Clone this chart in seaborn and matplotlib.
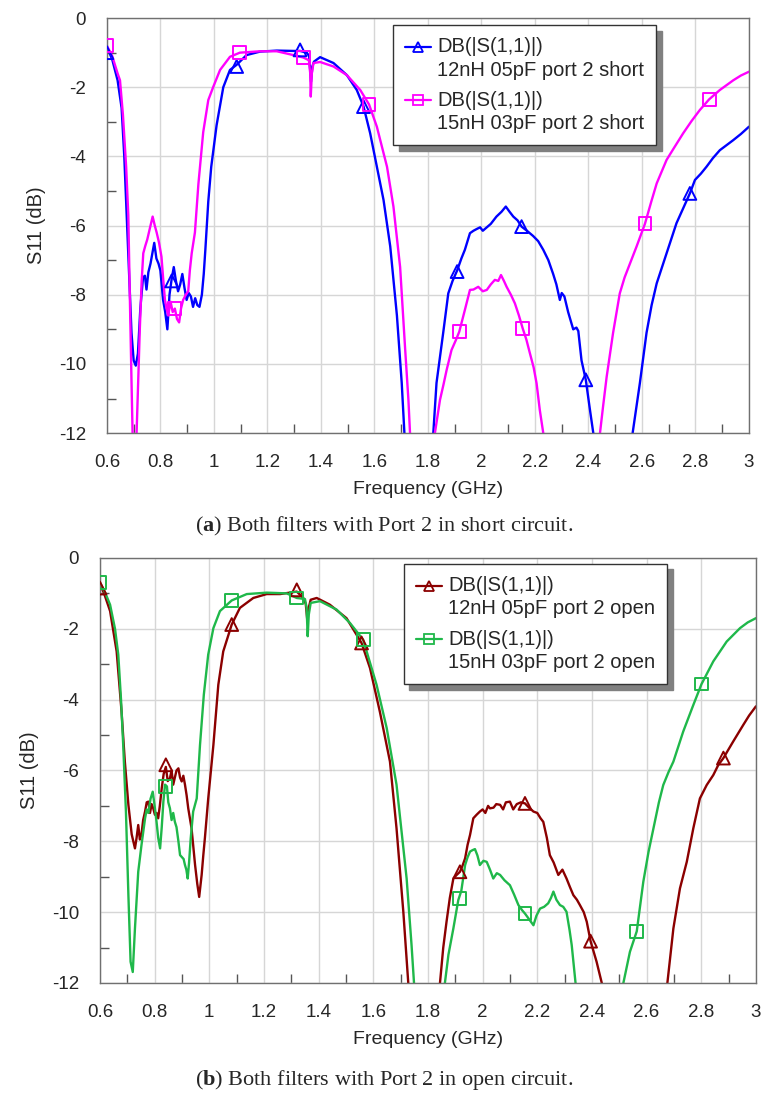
import numpy as np
import pandas as pd
import seaborn as sns
import matplotlib.pyplot as plt
from matplotlib.legend_handler import HandlerLine2D

# ---- (a) port 2 short: 12nH 05pF (blue)
short12_f = [0.600, 0.620, 0.640, 0.655, 0.665, 0.674, 0.684, 0.692, 0.700, 0.708, 0.716, 0.725,
             0.735, 0.742, 0.748, 0.755, 0.763, 0.770, 0.777, 0.785, 0.793, 0.800, 0.810, 0.818,
             0.826, 0.834, 0.842, 0.850, 0.858, 0.866, 0.874, 0.882, 0.890, 0.898, 0.906, 0.914,
             0.922, 0.930, 0.938, 0.946, 0.955, 0.962, 0.968, 0.979, 0.990, 1.010, 1.035, 1.060,
             1.085, 1.122, 1.172, 1.235, 1.297, 1.322, 1.347, 1.356, 1.363, 1.368, 1.374, 1.397,
             1.447, 1.497, 1.534, 1.559, 1.584, 1.609, 1.634, 1.659, 1.684, 1.702, 1.712, 1.716,
             1.816, 1.820, 1.832, 1.845, 1.857, 1.876, 1.892, 1.909, 1.925, 1.938, 1.957, 1.970,
             1.982, 1.995, 2.005, 2.020, 2.035, 2.056, 2.075, 2.091, 2.105, 2.119, 2.135, 2.150,
             2.170, 2.193, 2.212, 2.231, 2.250, 2.268, 2.280, 2.293, 2.300, 2.310, 2.324, 2.343,
             2.355, 2.362, 2.374, 2.390, 2.405, 2.418, 2.422,
             2.560, 2.565, 2.592, 2.617, 2.636, 2.655, 2.692, 2.729, 2.779, 2.798, 2.820, 2.841,
             2.865, 2.891, 2.915, 2.941, 2.970, 3.000]
short12_db = [-0.83, -1.20, -1.80, -2.60, -4.00, -5.70, -7.60, -9.10, -9.90, -10.05, -9.70, -8.40,
              -7.50, -7.45, -7.85, -7.35, -7.10, -6.80, -6.50, -6.95, -7.10, -7.30, -8.15, -8.50,
              -9.00, -8.00, -7.55, -7.20, -7.60, -7.90, -7.70, -7.40, -7.80, -8.15, -7.95, -8.05,
              -8.35, -8.10, -8.30, -8.35, -8.00, -7.40, -6.70, -5.30, -4.30, -3.10, -2.00, -1.50,
              -1.35, -1.07, -0.97, -0.94, -0.95, -0.95, -1.00, -1.10, -1.84, -1.40, -1.26, -1.13,
              -1.30, -1.65, -2.08, -2.55, -3.33, -4.30, -5.26, -6.60, -8.60, -10.55, -12.0, -13.0,
              -13.0, -12.0, -10.55, -9.80, -9.10, -7.96, -7.60, -7.30, -6.95, -6.70, -6.22, -6.15,
              -6.10, -6.05, -6.15, -6.05, -5.95, -5.74, -5.60, -5.45, -5.60, -5.74, -5.85, -6.03,
              -6.15, -6.30, -6.45, -6.70, -7.00, -7.40, -7.70, -8.15, -7.95, -8.05, -8.50, -9.00,
              -8.95, -9.05, -9.90, -10.46, -11.30, -12.0, -13.0,
              -13.0, -12.0, -10.56, -9.10, -8.30, -7.67, -6.80, -5.93, -5.07, -4.68, -4.50, -4.30,
              -4.05, -3.82, -3.68, -3.53, -3.35, -3.14]
short12_mk_f = [0.600, 0.842, 1.085, 1.322, 1.559, 1.909, 2.150, 2.390, 2.779]
short12_mk_db = [-1.00, -7.60, -1.40, -0.92, -2.56, -7.33, -6.03, -10.46, -5.07]

# ---- (a) port 2 short: 15nH 03pF (magenta)
short15_f = [0.600, 0.620, 0.640, 0.649, 0.660, 0.672, 0.680, 0.686, 0.692, 0.696, 0.700, 0.707,
             0.711, 0.717, 0.723, 0.730, 0.736, 0.743, 0.751, 0.760, 0.771, 0.779, 0.786, 0.795,
             0.804, 0.810, 0.817, 0.823, 0.829, 0.838, 0.846, 0.854, 0.862, 0.870, 0.877, 0.885,
             0.895, 0.904, 0.910, 0.917, 0.929, 0.942, 0.960, 0.979, 0.998, 1.023, 1.060, 1.097,
             1.172, 1.235, 1.297, 1.334, 1.355, 1.360, 1.362, 1.366, 1.372, 1.397, 1.447, 1.497,
             1.547, 1.580, 1.609, 1.647, 1.671, 1.696, 1.715, 1.727, 1.733, 1.737,
             1.822, 1.826, 1.845, 1.858, 1.870, 1.888, 1.905, 1.917, 1.938, 1.957, 1.970, 1.988,
             2.005, 2.020, 2.035, 2.050, 2.063, 2.073, 2.084, 2.094, 2.110, 2.125, 2.140, 2.154,
             2.168, 2.181, 2.195, 2.206, 2.218, 2.231, 2.236,
             2.438, 2.443, 2.455, 2.468, 2.492, 2.517, 2.535, 2.555, 2.580, 2.611, 2.635, 2.655,
             2.692, 2.720, 2.754, 2.785, 2.816, 2.851, 2.891, 2.941, 2.970, 3.000]
short15_db = [-0.80, -1.10, -1.60, -1.80, -2.80, -4.30, -5.70, -8.15, -10.5, -12.0, -13.0, -13.0,
              -12.0, -10.5, -9.00, -7.60, -6.80, -6.60, -6.40, -6.10, -5.74, -6.00, -6.20, -6.50,
              -6.90, -7.50, -8.15, -8.40, -8.60, -8.20, -8.50, -8.40, -8.70, -8.80, -8.40, -8.15,
              -8.00, -7.90, -7.30, -6.80, -6.20, -4.80, -3.30, -2.37, -1.98, -1.50, -1.12, -1.00,
              -0.96, -0.96, -1.07, -1.14, -1.22, -1.60, -2.27, -1.60, -1.30, -1.27, -1.40, -1.65,
              -2.08, -2.50, -3.14, -4.30, -5.45, -7.20, -9.60, -11.04, -12.0, -13.0,
              -13.0, -12.0, -11.04, -10.60, -10.17, -9.60, -9.30, -9.07, -8.44, -7.86, -7.85, -7.77,
              -7.90, -7.86, -7.70, -7.57, -7.60, -7.43, -7.60, -7.77, -8.00, -8.25, -8.60, -8.97,
              -9.30, -9.69, -10.10, -10.56, -11.33, -12.0, -13.0,
              -13.0, -12.0, -11.20, -10.37, -9.10, -7.96, -7.50, -7.10, -6.60, -5.95, -5.30, -4.78,
              -4.10, -3.75, -3.33, -2.98, -2.66, -2.35, -2.08, -1.80, -1.66, -1.55]
short15_mk_f = [0.600, 0.854, 1.097, 1.334, 1.580, 1.917, 2.154, 2.611, 2.851]
short15_mk_db = [-0.80, -8.40, -1.00, -1.14, -2.50, -9.07, -8.97, -5.95, -2.35]

# ---- (b) port 2 open: 12nH 05pF (dark red)
open12_f = [0.600, 0.615, 0.637, 0.661, 0.679, 0.691, 0.704, 0.716, 0.722, 0.728, 0.734, 0.740,
            0.746, 0.752, 0.758, 0.765, 0.771, 0.777, 0.783, 0.789, 0.795, 0.801, 0.807, 0.813,
            0.819, 0.826, 0.833, 0.841, 0.848, 0.856, 0.862, 0.868, 0.874, 0.880, 0.887, 0.893,
            0.899, 0.905, 0.911, 0.917, 0.923, 0.935, 0.948, 0.956, 0.963, 0.967, 0.972, 0.978,
            0.984, 0.996, 1.015, 1.033, 1.051, 1.082, 1.112, 1.161, 1.210, 1.259, 1.320, 1.344,
            1.353, 1.359, 1.364, 1.371, 1.393, 1.441, 1.502, 1.557, 1.588, 1.624, 1.661, 1.685,
            1.710, 1.728, 1.733,
            1.840, 1.844, 1.856, 1.868, 1.880, 1.893, 1.905, 1.917, 1.926, 1.936, 1.945, 1.954,
            1.966, 1.978, 1.990, 2.000, 2.010, 2.020, 2.027, 2.040, 2.050, 2.064, 2.075, 2.085,
            2.100, 2.112, 2.125, 2.140, 2.155, 2.170, 2.186, 2.200, 2.212, 2.222, 2.235, 2.246,
            2.260, 2.277, 2.292, 2.307, 2.320, 2.332, 2.345, 2.356, 2.370, 2.381, 2.395, 2.417,
            2.436, 2.441,
            2.670, 2.676, 2.698, 2.722, 2.747, 2.771, 2.795, 2.820, 2.844, 2.862, 2.881, 2.900,
            2.917, 2.935, 2.954, 2.975, 3.000]
open12_db = [-0.75, -1.00, -1.50, -2.64, -4.34, -5.75, -6.97, -7.80, -8.00, -8.20, -7.90, -7.54,
             -7.95, -7.80, -7.40, -7.16, -6.90, -6.88, -7.20, -6.95, -7.07, -7.25, -7.20, -7.35,
             -7.00, -6.50, -6.10, -5.90, -6.30, -6.22, -6.00, -6.40, -6.20, -6.00, -5.94, -6.20,
             -6.31, -6.15, -6.40, -6.70, -7.07, -7.63, -8.67, -9.20, -9.57, -9.30, -8.95, -8.40,
             -7.90, -6.80, -5.28, -3.58, -2.64, -1.88, -1.41, -1.13, -1.02, -1.02, -0.95, -1.13,
             -1.30, -1.79, -1.40, -1.18, -1.13, -1.32, -1.70, -2.40, -3.11, -4.34, -5.75, -7.63,
             -10.00, -12.0, -13.0,
             -13.0, -12.0, -11.00, -10.27, -9.60, -9.05, -8.95, -8.86, -8.70, -8.48, -8.10, -7.82,
             -7.35, -7.25, -7.16, -7.10, -7.20, -7.00, -7.07, -7.05, -6.95, -6.97, -7.10, -6.90,
             -6.88, -7.10, -6.95, -6.90, -6.93, -7.05, -7.16, -7.20, -7.35, -7.45, -7.90, -8.39,
             -8.60, -8.95, -8.80, -9.05, -9.30, -9.52, -9.65, -9.80, -10.00, -10.27, -10.82, -11.40,
             -12.0, -13.0,
             -13.0, -12.0, -10.46, -9.33, -8.58, -7.63, -6.79, -6.41, -6.13, -5.85, -5.65, -5.40,
             -5.18, -4.95, -4.71, -4.45, -4.19]
open12_mk_f = [0.600, 0.841, 1.082, 1.320, 1.557, 1.917, 2.155, 2.395, 2.881]
open12_mk_db = [-0.85, -5.84, -1.88, -0.90, -2.40, -8.86, -6.93, -10.82, -5.65]

# ---- (b) port 2 open: 15nH 03pF (green)
open15_f = [0.600, 0.620, 0.637, 0.655, 0.667, 0.677, 0.685, 0.695, 0.704, 0.712, 0.720, 0.728,
            0.740, 0.752, 0.765, 0.771, 0.777, 0.785, 0.793, 0.800, 0.807, 0.813, 0.820, 0.826,
            0.832, 0.838, 0.845, 0.850, 0.856, 0.862, 0.868, 0.874, 0.880, 0.887, 0.893, 0.900,
            0.906, 0.911, 0.916, 0.921, 0.926, 0.932, 0.941, 0.954, 0.966, 0.980, 0.996, 1.015,
            1.039, 1.082, 1.137, 1.210, 1.283, 1.320, 1.350, 1.356, 1.360, 1.364, 1.371, 1.405,
            1.466, 1.515, 1.563, 1.612, 1.649, 1.685, 1.722, 1.740, 1.749, 1.753,
            1.858, 1.862, 1.875, 1.893, 1.911, 1.922, 1.936, 1.945, 1.954, 1.963, 1.972, 1.981,
            1.990, 2.003, 2.015, 2.027, 2.039, 2.052, 2.064, 2.080, 2.100, 2.115, 2.131, 2.145,
            2.155, 2.170, 2.186, 2.197, 2.210, 2.225, 2.240, 2.250, 2.259, 2.270, 2.283, 2.295,
            2.307, 2.318, 2.326, 2.340, 2.345,
            2.510, 2.515, 2.539, 2.564, 2.588, 2.607, 2.625, 2.645, 2.661, 2.680, 2.698, 2.734,
            2.771, 2.801, 2.844, 2.893, 2.942, 2.970, 3.000]
open15_db = [-0.70, -1.00, -1.32, -2.00, -2.73, -4.00, -5.28, -7.16, -9.52, -11.40, -11.69, -10.46,
             -8.86, -8.10, -7.35, -7.10, -7.20, -6.80, -6.60, -7.00, -7.45, -7.90, -8.20, -7.60,
             -6.88, -6.40, -6.45, -6.90, -7.07, -7.40, -7.20, -7.45, -7.60, -8.00, -8.39, -8.45,
             -8.50, -8.67, -8.80, -9.05, -8.60, -7.92, -7.16, -6.79, -5.28, -3.86, -2.73, -1.98,
             -1.50, -1.20, -1.02, -0.98, -1.00, -1.13, -1.16, -1.40, -2.21, -1.60, -1.27, -1.22,
             -1.46, -1.84, -2.31, -3.58, -4.80, -6.40, -9.05, -10.93, -12.0, -13.0,
             -13.0, -12.0, -11.20, -10.46, -9.66, -9.40, -8.67, -8.45, -8.29, -8.25, -8.22, -8.40,
             -8.67, -8.55, -8.58, -8.80, -9.05, -8.90, -8.95, -9.10, -9.24, -9.50, -9.80, -9.95,
             -10.04, -10.20, -10.37, -10.10, -9.90, -9.85, -9.75, -9.60, -9.42, -9.65, -9.80, -9.85,
             -9.99, -10.50, -10.93, -12.0, -13.0,
             -13.0, -12.0, -11.12, -10.54, -9.14, -8.30, -7.63, -6.90, -6.41, -6.05, -5.75, -4.90,
             -4.15, -3.56, -2.92, -2.36, -1.98, -1.82, -1.70]
open15_mk_f = [0.600, 0.841, 1.082, 1.320, 1.563, 1.915, 2.155, 2.564, 2.801]
open15_mk_db = [-0.70, -6.45, -1.20, -1.13, -2.31, -9.61, -10.04, -10.54, -3.56]

x_ticks = [0.6, 0.8, 1, 1.2, 1.4, 1.6, 1.8, 2, 2.2, 2.4, 2.6, 2.8, 3]
x_tick_labels = ["0.6", "0.8", "1", "1.2", "1.4", "1.6", "1.8", "2", "2.2", "2.4", "2.6", "2.8", "3"]
y_ticks = [0, -2, -4, -6, -8, -10, -12]

sns.set_style("white")
plt.rcParams["font.family"] = ["Liberation Sans", "DejaVu Sans"]
plt.rcParams["axes.unicode_minus"] = False
plt.rcParams["mathtext.fontset"] = "custom"
plt.rcParams["mathtext.bf"] = "Liberation Serif:bold"
plt.rcParams["mathtext.rm"] = "Liberation Serif"

fig = plt.figure(figsize=(7.69, 11.02), dpi=100)
ax_a = fig.add_axes([0.139, 0.607, 0.835, 0.3766])
ax_b = fig.add_axes([0.130, 0.108, 0.853, 0.3857])


class TopLineHandler(HandlerLine2D):
    # put the legend handle next to the first line of a two-line label
    def create_artists(self, legend, orig_handle, xdescent, ydescent, width, height,
                       fontsize, trans):
        arts = super().create_artists(legend, orig_handle, xdescent, ydescent, width,
                                      height, fontsize, trans)
        for a in arts:
            a.set_ydata([y + 0.6 * fontsize for y in a.get_ydata()])
        return arts


def draw_series(ax, f, db, mk_f, mk_db, color, marker, label):
    df = pd.DataFrame({"f": f, "db": db})
    sns.lineplot(data=df, x="f", y="db", ax=ax, color=color, lw=1.7,
                 sort=False, estimator=None, legend=False)
    mk = pd.DataFrame({"f": mk_f, "db": mk_db})
    sns.scatterplot(data=mk, x="f", y="db", ax=ax, marker=marker, s=85,
                    facecolors="none", edgecolor=color, linewidth=1.4, legend=False, zorder=4)
    # legend proxy
    ax.plot([], [], color=color, lw=1.6, marker=marker, ms=7, mfc="none",
            mec=color, mew=1.3, label=label)


def style_axes(ax):
    ax.set_xlim(0.6, 3)
    ax.set_ylim(-12, 0)
    ax.set_xticks(x_ticks)
    ax.set_xticklabels(x_tick_labels)
    ax.set_yticks(y_ticks)
    ax.set_xticks(np.arange(0.7, 3.0, 0.2), minor=True)
    ax.set_yticks(np.arange(-11, 0, 2), minor=True)
    ax.grid(True, which="major", color="#d6d6d6", lw=1)
    ax.set_axisbelow(True)
    ax.tick_params(which="major", length=0, labelsize=13.5, pad=15)
    ax.tick_params(which="minor", direction="in", length=6.5, width=1, color="#555555",
                   bottom=True, left=True)
    ax.tick_params(axis="y", which="major", pad=15)
    for sp in ax.spines.values():
        sp.set_color("#707070")
        sp.set_linewidth(1)
    ax.set_xlabel("Frequency (GHz)", fontsize=14, labelpad=7)
    ax.set_ylabel("S11 (dB)", fontsize=14.5, labelpad=9)


draw_series(ax_a, short12_f, short12_db, short12_mk_f, short12_mk_db, "#0000ff", "^",
            "DB(|S(1,1)|)\n12nH 05pF port 2 short")
draw_series(ax_a, short15_f, short15_db, short15_mk_f, short15_mk_db, "#ff00ff", "s",
            "DB(|S(1,1)|)\n15nH 03pF port 2 short")
draw_series(ax_b, open12_f, open12_db, open12_mk_f, open12_mk_db, "#8b0000", "^",
            "DB(|S(1,1)|)\n12nH 05pF port 2 open")
draw_series(ax_b, open15_f, open15_db, open15_mk_f, open15_mk_db, "#1fb84a", "s",
            "DB(|S(1,1)|)\n15nH 03pF port 2 open")

for ax in (ax_a, ax_b):
    style_axes(ax)

leg_kw = dict(loc="upper left", fontsize=14.5, frameon=True, fancybox=False,
              shadow={"ox": 4, "oy": -4, "color": "#808080", "alpha": 1},
              handlelength=1.3, handletextpad=0.3, labelspacing=0.55, borderpad=0.6,
              borderaxespad=0, handler_map={plt.Line2D: TopLineHandler()})
leg_a = ax_a.legend(bbox_to_anchor=(0.4455, 0.983), **leg_kw)
leg_b = ax_b.legend(bbox_to_anchor=(0.463, 0.986), **leg_kw)
for leg in (leg_a, leg_b):
    leg.get_frame().set_edgecolor("#333333")
    leg.get_frame().set_linewidth(1)
    leg.get_frame().set_facecolor("white")
    for t in leg.get_texts():
        t.set_linespacing(1.3)

fig.text(0.5, 1 - 526 / 1102, r"($\mathbf{a}$) Both filters with Port 2 in short circuit.",
         ha="center", va="center", fontsize=16, family="Liberation Serif")
fig.text(0.5, 1 - 1080 / 1102, r"($\mathbf{b}$) Both filters with Port 2 in open circuit.",
         ha="center", va="center", fontsize=16, family="Liberation Serif")

fig.savefig("out.png", dpi=100, facecolor="white")
